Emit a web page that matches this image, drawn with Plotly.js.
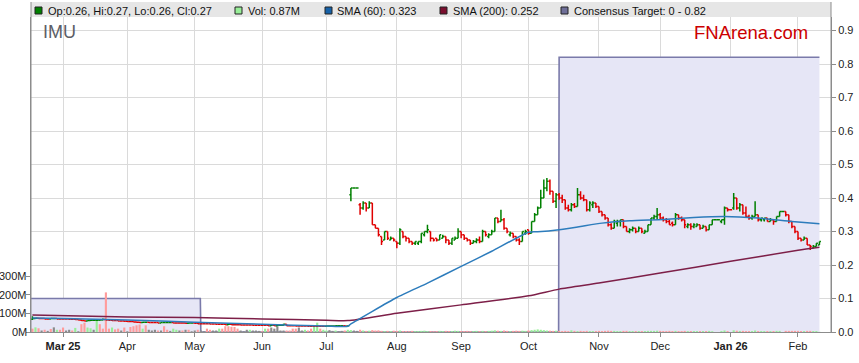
<!DOCTYPE html>
<html><head><meta charset="utf-8">
<script src="https://cdn.plot.ly/plotly-3.0.1.min.js"></script>
<style>html,body{margin:0;padding:0;background:#fff}#chart{width:859px;height:363px}</style>
</head><body><div id="chart"></div>
<script>
// ---------- DATA ----------
// trading days: weekdays 2025-02-17 .. 2026-02-11 (first 104 pre-consolidation, next 154 post)
const startDay = '2025-02-17', endDay = '2026-02-11';

const openPre = [.038,.040,.041,.040,.040,.039,.039,.040,.040,.039,
 .039,.039,.039,.038,.038,.037,.036,.034,.033,.034,
 .035,.035,.035,.036,.037,.036,.035,.034,.034,.033,
 .033,.032,.031,.031,.030,.029,.028,.029,.029,.028,
 .028,.028,.027,.028,.028,.028,.028,.027,.027,.027,
 .027,.026,.027,.027,.026,.025,.025,.025,.025,.024,
 .024,.023,.023,.023,.022,.023,.022,.022,.022,.021,
 .021,.021,.021,.020,.020,.020,.020,.020,.019,.020,
 .019,.020,.020,.023,.019,.019,.019,.018,.018,.018,
 .018,.017,.017,.017,.017,.017,.017,.018,.018,.018,
 .019,.019,.019,.018];
const highPre = [.047,.042,.042,.041,.041,.040,.041,.041,.041,.040,
 .040,.040,.040,.039,.039,.038,.037,.035,.035,.036,
 .036,.036,.037,.040,.038,.037,.036,.035,.035,.034,
 .034,.033,.032,.032,.031,.030,.030,.030,.030,.029,
 .029,.029,.029,.029,.029,.029,.029,.028,.028,.028,
 .028,.028,.028,.028,.027,.026,.026,.026,.026,.025,
 .025,.024,.024,.024,.024,.024,.023,.023,.023,.022,
 .022,.022,.022,.021,.021,.021,.021,.021,.021,.021,
 .021,.021,.025,.023,.020,.020,.020,.019,.019,.019,
 .019,.018,.018,.018,.018,.018,.019,.019,.019,.020,
 .020,.020,.020,.020];
const lowPre = [.036,.039,.039,.039,.038,.038,.038,.039,.038,.038,
 .038,.038,.037,.037,.036,.035,.033,.032,.032,.033,
 .034,.034,.034,.035,.035,.034,.033,.033,.032,.032,
 .031,.030,.030,.029,.028,.027,.027,.028,.027,.027,
 .027,.026,.026,.027,.027,.027,.026,.026,.026,.026,
 .025,.025,.026,.025,.024,.024,.024,.024,.023,.023,
 .022,.022,.022,.021,.021,.021,.021,.021,.020,.020,
 .020,.020,.019,.019,.019,.019,.019,.018,.018,.018,
 .018,.019,.019,.018,.018,.018,.017,.017,.017,.017,
 .016,.016,.016,.016,.016,.016,.016,.017,.017,.017,
 .018,.018,.017,.017];
const closePre = [.040,.041,.040,.040,.039,.039,.040,.040,.039,.039,
 .039,.039,.038,.038,.037,.036,.034,.033,.034,.035,
 .035,.035,.036,.037,.036,.035,.034,.034,.033,.033,
 .032,.031,.031,.030,.029,.028,.029,.029,.028,.028,
 .028,.027,.028,.028,.028,.028,.027,.027,.027,.027,
 .026,.027,.027,.026,.025,.025,.025,.025,.024,.024,
 .023,.023,.023,.022,.023,.022,.022,.022,.021,.021,
 .021,.021,.020,.020,.020,.020,.020,.019,.020,.019,
 .020,.020,.023,.019,.019,.019,.018,.018,.018,.018,
 .017,.017,.017,.017,.017,.017,.018,.018,.018,.019,
 .019,.019,.018,.019];

const openPost = [.41,.43,.43,.38,.37,.385,.37,.385,.32,.31,
 .285,.275,.30,.275,.28,.27,.265,.30,.285,.28,
 .27,.265,.265,.27,.29,.30,.30,.28,.28,.275,
 .28,.285,.275,.265,.275,.28,.30,.29,.28,.275,
 .265,.27,.275,.27,.30,.285,.29,.30,.34,.33,
 .335,.31,.29,.295,.285,.275,.27,.295,.305,.295,
 .33,.35,.37,.40,.43,.45,.42,.39,.41,.40,
 .395,.37,.365,.38,.375,.41,.40,.395,.365,.38,
 .385,.375,.36,.35,.34,.32,.31,.325,.33,.335,
 .315,.30,.305,.31,.30,.31,.295,.30,.32,.34,
 .345,.35,.34,.335,.33,.325,.32,.35,.34,.335,
 .315,.32,.315,.315,.32,.31,.315,.305,.32,.335,
 .335,.33,.335,.37,.365,.37,.40,.37,.38,.355,
 .345,.34,.345,.35,.335,.335,.34,.33,.335,.33,
 .345,.36,.36,.35,.33,.315,.30,.28,.275,.28,
 .26,.25,.255,.26];
const highPost = [.43,.43,.43,.385,.39,.385,.39,.385,.32,.31,
 .285,.30,.30,.285,.28,.27,.31,.30,.285,.28,
 .27,.27,.27,.295,.30,.32,.30,.28,.28,.29,
 .29,.285,.275,.28,.285,.31,.30,.29,.28,.275,
 .275,.28,.285,.305,.30,.295,.305,.34,.34,.365,
 .34,.31,.30,.295,.285,.28,.30,.305,.305,.33,
 .355,.375,.425,.455,.46,.455,.42,.415,.415,.41,
 .395,.38,.385,.385,.43,.42,.41,.395,.39,.39,
 .385,.375,.36,.35,.34,.325,.335,.335,.335,.335,
 .315,.31,.315,.31,.315,.31,.305,.32,.34,.35,
 .37,.355,.345,.34,.335,.33,.355,.35,.345,.335,
 .325,.325,.325,.325,.32,.32,.315,.32,.335,.335,
 .335,.335,.375,.37,.365,.415,.40,.385,.38,.375,
 .35,.35,.39,.35,.34,.34,.34,.34,.335,.345,
 .36,.36,.36,.35,.33,.315,.30,.28,.285,.28,
 .26,.26,.265,.27];
const lowPost = [.39,.43,.43,.35,.365,.36,.37,.32,.31,.285,
 .26,.275,.275,.275,.27,.25,.26,.28,.27,.265,
 .26,.26,.26,.265,.285,.295,.27,.27,.27,.275,
 .28,.265,.26,.26,.275,.28,.28,.275,.27,.26,
 .265,.265,.265,.27,.285,.28,.29,.30,.325,.33,
 .305,.295,.285,.28,.27,.26,.27,.29,.29,.295,
 .33,.35,.37,.40,.42,.41,.385,.37,.395,.385,
 .365,.36,.36,.37,.375,.395,.39,.36,.36,.37,
 .37,.355,.345,.335,.315,.305,.31,.315,.315,.31,
 .30,.295,.30,.295,.30,.295,.295,.30,.32,.335,
 .335,.335,.33,.325,.32,.315,.32,.335,.33,.31,
 .31,.305,.31,.315,.305,.31,.30,.305,.32,.335,
 .335,.325,.32,.36,.365,.365,.365,.36,.35,.34,
 .335,.335,.345,.33,.33,.33,.33,.33,.32,.33,
 .345,.36,.345,.325,.31,.295,.275,.27,.275,.26,
 .245,.25,.255,.26];
const closePost = [.43,.43,.43,.37,.385,.37,.385,.32,.31,.29,
 .27,.30,.28,.28,.275,.265,.305,.285,.28,.27,
 .265,.27,.27,.295,.30,.305,.28,.275,.275,.29,
 .285,.275,.265,.28,.28,.30,.29,.28,.275,.265,
 .27,.275,.27,.30,.29,.29,.30,.34,.33,.335,
 .31,.30,.295,.285,.275,.27,.30,.30,.295,.33,
 .35,.37,.40,.43,.45,.42,.39,.41,.40,.395,
 .37,.365,.38,.375,.41,.40,.395,.365,.385,.385,
 .375,.36,.35,.34,.32,.31,.33,.33,.335,.315,
 .30,.305,.31,.30,.31,.30,.30,.32,.34,.345,
 .35,.34,.335,.33,.32,.32,.35,.34,.335,.32,
 .32,.315,.32,.32,.31,.315,.305,.32,.335,.335,
 .335,.335,.37,.365,.365,.40,.37,.38,.355,.345,
 .34,.345,.35,.335,.34,.34,.33,.335,.33,.345,
 .36,.36,.35,.33,.315,.30,.28,.275,.28,.26,
 .255,.255,.265,.27];

// volume in millions of shares
const volPre = [18,25,20,8,12,6,16,25,12,12,
 24,8,12,8,22,4,42,50,24,20,
 12,64,42,18,213,18,24,14,18,8,
 24,4,27,31,36,40,18,36,12,8,
 12,8,8,31,12,6,18,12,8,8,
 12,12,4,8,12,8,4,18,12,8,
 8,18,18,31,31,28,27,18,8,4,
 12,12,8,8,6,4,18,18,24,18,
 31,8,8,8,8,18,18,24,8,12,
 8,18,31,50,18,12,8,10,6,8,
 4,6,8,12];
// volume bar colour codes for the pre-consolidation days: u = up, d = down, n = unchanged
const volDirPre = 'dudndndnud' + 'dnndundduu' + 'nudddduddn' + 'dnddddudnn' + 'ndnddnuund' +
                  'ndnndnnddn' + 'nuddddddnn' + 'nunnndudnn' + 'nnnddddnnu' + 'dduuduunnu' + 'nndu';
const volPost = [10,8,6,12,8,6,7,10,8,9,6,5,6,5,7,
 6,8,5,5,4,6,5,5,6,7,5,5,4,5,6,5,6,5,5,7,6,
 5,5,6,5,5,6,5,6,5,6,7,9,7,6,8,6,5,6,7,6,7,6,
 8,10,12,14,12,10,8,7,6,7,6,5,6,5,9,6,5,6,5,6,5,5,5,
 6,5,6,7,6,6,5,5,6,6,5,5,5,5,5,5,6,6,6,7,
 6,5,5,6,5,6,5,5,6,5,5,5,5,5,5,5,6,4,0,0,5,8,5,
 0,9,7,6,6,5,5,5,8,5,5,5,5,5,5,6,6,0,6,6,6,6,
 6,5,5,6,6,5,5,0.87];

// SMA (60) read at sample dates
const sma60Dates = ['2025-02-17','2025-03-03','2025-04-01','2025-05-01','2025-06-02','2025-07-01','2025-07-10','2025-07-11',
 '2025-08-01','2025-08-15','2025-09-01','2025-09-15','2025-10-01','2025-10-06','2025-10-15','2025-10-24','2025-11-04',
 '2025-11-17','2025-12-02','2025-12-16','2025-12-30','2026-01-14','2026-01-29','2026-02-11'];
const sma60Vals = [0.042,0.040,0.036,0.029,0.023,0.018,0.017,0.024,0.103,0.146,0.196,0.241,0.298,0.299,0.305,0.315,0.325,
 0.332,0.336,0.342,0.345,0.340,0.330,0.323];
// SMA (200)
const sma200Dates = ['2025-02-17','2025-04-01','2025-05-01','2025-06-02','2025-07-01','2025-07-10','2025-08-01','2025-09-01',
 '2025-10-01','2025-10-15','2025-11-03','2025-12-01','2026-01-01','2026-02-02','2026-02-11'];
const sma200Vals = [0.051,0.045,0.043,0.039,0.035,0.034,0.056,0.081,0.108,0.128,0.146,0.176,0.211,0.244,0.253];
// Consensus target steps
const targetDates = ['2025-02-14 13:00','2025-05-02 20:00','2025-05-05','2025-10-14 20:00','2025-10-15','2026-02-11'];
const targetVals = [0.10, 0.10, 0, 0, 0.82, 0.82];

// axis ticks
const monthTicks = ['2025-03-03','2025-04-01','2025-05-01','2025-06-02','2025-07-01','2025-08-01','2025-09-01','2025-10-01',
 '2025-11-03','2025-12-01','2026-01-01','2026-02-02'];
const monthLabels = ['<b>Mar 25</b>','Apr','May','Jun','Jul','Aug','Sep','Oct','Nov','Dec','<b>Jan 26</b>','Feb'];
const priceTicks = [0,0.1,0.2,0.3,0.4,0.5,0.6,0.7,0.8,0.9];
const volTicks = [0,100,200,300];
const volTickText = ['0M','100M','200M','300M'];

// legend texts
const legendItems = [
  {text:'Op:0.26, Hi:0.27, Lo:0.26, Cl:0.27', color:'#008000', sq:35, tx:46},
  {text:'Vol: 0.87M', color:'#98ee98', sq:235, tx:246},
  {text:'SMA (60): 0.323', color:'#1762a8', sq:325, tx:335},
  {text:'SMA (200): 0.252', color:'#7a0f2e', sq:440, tx:451},
  {text:'Consensus Target: 0 - 0.82', color:'#6f6f98', sq:561, tx:572}
];

// ---------- BUILD ----------
function weekdays(s, e){
  const out=[]; let d=new Date(s+'T00:00:00Z'); const end=new Date(e+'T00:00:00Z');
  while(d<=end){const w=d.getUTCDay(); if(w!==0&&w!==6) out.push(d.toISOString().slice(0,10)); d=new Date(d.getTime()+86400000);}
  return out;
}
const days = weekdays(startDay, endDay);
const O = openPre.concat(openPost), H = highPre.concat(highPost), L = lowPre.concat(lowPost), C = closePre.concat(closePost);
const V = volPre.concat(volPost).map(v => v*1e6);
const colUp='#98ee98', colDn='#ff9c9c', colNo='#8a8a8a';
const volColors = days.map((d,i)=>{
  let dir;
  if(i < volDirPre.length) dir = volDirPre[i];
  else dir = C[i]>O[i] ? 'u' : (C[i]<O[i] ? 'd' : 'n');
  return dir==='u'?colUp:(dir==='d'?colDn:colNo);
});

const L0=31, R0=831, T0=17, B0=332;
const px = x => (x-L0)/(R0-L0);
const py = y => 1-(y-T0)/(B0-T0);
const VMAX = 1694;

const traces = [
  {type:'scatter', x:targetDates, y:targetVals, xaxis:'x', yaxis:'y', mode:'lines', line:{color:'#7a7aaa', width:1.6},
   fill:'tozeroy', fillcolor:'#e6e6f6', hoverinfo:'skip'},
  {type:'bar', x:days, y:V, xaxis:'x', yaxis:'y2', marker:{color:volColors, line:{width:0}}, hoverinfo:'skip'},
  {type:'scatter', x:sma200Dates, y:sma200Vals, xaxis:'x', yaxis:'y3', mode:'lines', line:{color:'#7d1f48', width:1.5, shape:'spline', smoothing:0.6}, hoverinfo:'skip'},
  {type:'scatter', x:sma60Dates, y:sma60Vals, xaxis:'x', yaxis:'y3', mode:'lines', line:{color:'#2d7cbc', width:1.5, shape:'spline', smoothing:0.5}, hoverinfo:'skip'},
  {type:'ohlc', x:days, open:O, high:H, low:L, close:C, xaxis:'x', yaxis:'y3', tickwidth:0.5,
   increasing:{line:{color:'#008000', width:1.5}}, decreasing:{line:{color:'#e00000', width:1.5}}, hoverinfo:'skip'}
];

const shapes = [
  {type:'rect', xref:'paper', yref:'paper', x0:0, x1:1, y0:1, y1:py(2), fillcolor:'#e6e6e6', line:{width:0}, layer:'above'},
  {type:'line', xref:'paper', yref:'paper', x0:0, x1:0, y0:0, y1:py(2), line:{color:'#8c8c8c', width:1}},
  {type:'line', xref:'paper', yref:'paper', x0:1, x1:1, y0:0, y1:py(2), line:{color:'#8c8c8c', width:1}}
];
const annotations = [];
legendItems.forEach(it=>{
  shapes.push({type:'rect', xref:'paper', yref:'paper', x0:px(it.sq), x1:px(it.sq+7), y0:py(14), y1:py(7),
    fillcolor:it.color, line:{color:'#222', width:1}});
  annotations.push({xref:'paper', yref:'paper', x:px(it.tx), y:py(10.5), xanchor:'left', yanchor:'middle', showarrow:false,
    text:it.text, font:{size:11, color:'#111'}});
});
// volume axis labels (left side)
volTicks.forEach((v,i)=>{
  annotations.push({xref:'paper', yref:'paper', x:px(28), y:v/VMAX, xanchor:'right', yanchor:'middle', showarrow:false,
    text:volTickText[i], font:{size:11, color:'#222'}, borderpad:0});
});
annotations.push({xref:'paper', yref:'paper', x:px(41), y:py(32), xanchor:'left', yanchor:'middle', showarrow:false,
  text:'IMU', font:{size:18, color:'#5c5d66'}});
annotations.push({xref:'paper', yref:'paper', x:px(692), y:py(32), xanchor:'left', yanchor:'middle', showarrow:false,
  text:'FNArena.com', font:{size:18.5, color:'#cc0000'}});

const layout = {
  width:859, height:363,
  margin:{l:L0, r:859-R0, t:T0, b:363-B0, pad:0},
  paper_bgcolor:'#ffffff', plot_bgcolor:'#ffffff',
  showlegend:false, bargap:0.3, hovermode:false,
  font:{family:'"Liberation Sans", Arial, sans-serif', size:11, color:'#222'},
  xaxis:{type:'date', range:['2025-02-14 13:00','2026-02-16 18:40'], rangebreaks:[{bounds:['sat','mon']}],
    tickmode:'array', tickvals:monthTicks, ticktext:monthLabels, showgrid:true, gridcolor:'#dadada', gridwidth:1,
    ticks:'outside', ticklen:4, tickcolor:'#8c8c8c', showline:true, linecolor:'#8c8c8c', linewidth:1, zeroline:false,
    rangeslider:{visible:false}, tickfont:{size:11, color:'#222'}, fixedrange:true},
  yaxis:{side:'right', range:[0,0.9403], tickmode:'array', tickvals:priceTicks, ticktext:priceTicks.map(v=>v.toFixed(1)),
    showgrid:true, gridcolor:'#dadada', gridwidth:1, ticks:'outside', ticklen:4, tickcolor:'#8c8c8c',
    showline:true, linecolor:'#8c8c8c', linewidth:1, zeroline:false, tickfont:{size:11, color:'#222'}, fixedrange:true},
  yaxis2:{overlaying:'y', side:'left', range:[0,VMAX*1e6], tickmode:'array', tickvals:volTicks.map(v=>v*1e6), ticktext:volTickText,
    showticklabels:false, showgrid:false, ticks:'outside', ticklen:4, tickcolor:'#8c8c8c', showline:true, linecolor:'#8c8c8c', linewidth:1,
    zeroline:false, fixedrange:true},
  yaxis3:{overlaying:'y', range:[0,0.9403], visible:false, showgrid:false, zeroline:false, fixedrange:true},
  shapes:shapes, annotations:annotations
};

Plotly.newPlot('chart', traces, layout, {staticPlot:true, displayModeBar:false});
</script>
</body></html>
